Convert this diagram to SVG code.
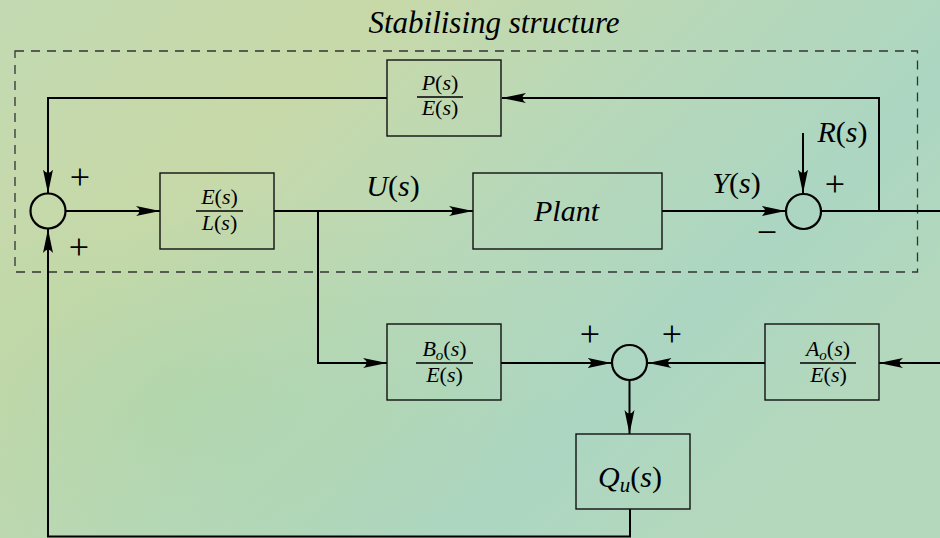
<svg xmlns="http://www.w3.org/2000/svg" width="940" height="538" viewBox="0 0 940 538">
<defs>
<linearGradient id="bg" x1="0" y1="0" x2="1" y2="0.6">
<stop offset="0" stop-color="#c2d9b2"/>
<stop offset="0.3" stop-color="#c8d9a8"/>
<stop offset="0.55" stop-color="#b8d8b8"/>
<stop offset="0.8" stop-color="#acd6c2"/>
<stop offset="1" stop-color="#b4d8bc"/>
</linearGradient>
<radialGradient id="ov" cx="0.2" cy="0.75" r="0.4">
<stop offset="0" stop-color="#a8d4a8" stop-opacity="0.5"/>
<stop offset="1" stop-color="#a8d4a8" stop-opacity="0"/>
</radialGradient>
<marker id="ah" viewBox="0 0 24 12" refX="24" refY="6" markerWidth="24" markerHeight="12" markerUnits="userSpaceOnUse" orient="auto">
<path d="M0,1 L24,6 L0,11 Q7,6 0,1 Z" fill="#000"/>
</marker>
</defs>
<style>
.box{fill:none;stroke:#111;stroke-width:1.4}
.sum{fill:none;stroke:#000;stroke-width:2.2}
.con{fill:none;stroke:#000;stroke-width:2}
.arr{marker-end:url(#ah)}
.dash{fill:none;stroke:#333;stroke-width:1.3;stroke-dasharray:9 7}
.bar{stroke:#000;stroke-width:1.4}
</style>
<rect x="0" y="0" width="940" height="538" fill="url(#bg)"/>
<rect x="0" y="0" width="940" height="538" fill="url(#ov)"/>

<g font-family="Liberation Serif, DejaVu Serif, serif" fill="#000">

<g id="stabilising-structure">
<rect class="dash" x="15" y="51" width="902.5" height="221"/>
<text font-size="31" font-style="italic" x="494" y="33" text-anchor="middle">Stabilising structure</text>
</g>

<g id="connectors">
<path class="con arr" d="M879,211 V98 H502"/>
<path class="con arr" d="M387,98 H48 V193.5"/>
<path class="con arr" d="M65.5,211 H160"/>
<path class="con arr" d="M274,211 H473"/>
<path class="con arr" d="M318,211 V363 H387"/>
<path class="con arr" d="M662,211 H785.5"/>
<path class="con arr" d="M803,133 V193.5"/>
<path class="con" d="M821,211 H940"/>
<path class="con arr" d="M501,363 H611.5"/>
<path class="con arr" d="M765,363 H647.5"/>
<path class="con arr" d="M940,363 H879"/>
<path class="con arr" d="M629.5,380.5 V434"/>
<path class="con arr" d="M630,509 V536.5 H48 V229"/>
</g>

<g id="sum1" font-size="36">
<circle class="sum" cx="48" cy="211" r="17.5"/>
<text x="80" y="189" text-anchor="middle">+</text>
<text x="79" y="259" text-anchor="middle">+</text>
</g>

<g id="sum2" font-size="36">
<circle class="sum" cx="803.5" cy="211.5" r="17.5"/>
<text x="835" y="196" text-anchor="middle">+</text>
<text x="767" y="244" text-anchor="middle">−</text>
</g>

<g id="sum3" font-size="36">
<circle class="sum" cx="629.5" cy="362.5" r="17.5"/>
<text x="590" y="346" text-anchor="middle">+</text>
<text x="672" y="346" text-anchor="middle">+</text>
</g>

<g id="P-over-E" font-size="22">
<rect class="box" x="387" y="60" width="114" height="76"/>
<text x="440" y="90" text-anchor="middle"><tspan font-style="italic">P</tspan>(<tspan font-style="italic">s</tspan>)</text>
<line class="bar" x1="417" y1="97" x2="463" y2="97"/>
<text x="440" y="115" text-anchor="middle"><tspan font-style="italic">E</tspan>(<tspan font-style="italic">s</tspan>)</text>
</g>

<g id="E-over-L" font-size="22">
<rect class="box" x="160" y="173" width="114" height="76"/>
<text x="219.5" y="204" text-anchor="middle"><tspan font-style="italic">E</tspan>(<tspan font-style="italic">s</tspan>)</text>
<line class="bar" x1="196" y1="211" x2="243" y2="211"/>
<text x="219.5" y="230" text-anchor="middle"><tspan font-style="italic">L</tspan>(<tspan font-style="italic">s</tspan>)</text>
</g>

<g id="U-label" font-size="30">
<text x="393" y="196" text-anchor="middle"><tspan font-style="italic">U</tspan>(<tspan font-style="italic">s</tspan>)</text>
</g>

<g id="plant">
<rect class="box" x="473" y="173" width="189" height="76"/>
<text font-size="30" font-style="italic" x="566.5" y="221" text-anchor="middle">Plant</text>
</g>

<g id="Y-label" font-size="30">
<text x="736.5" y="193" text-anchor="middle"><tspan font-style="italic">Y</tspan>(<tspan font-style="italic">s</tspan>)</text>
</g>

<g id="R-label" font-size="30">
<text x="842.5" y="142" text-anchor="middle"><tspan font-style="italic">R</tspan>(<tspan font-style="italic">s</tspan>)</text>
</g>

<g id="Bo-over-E" font-size="22">
<rect class="box" x="387" y="324" width="114" height="76"/>
<text x="444.5" y="356" text-anchor="middle"><tspan font-style="italic">B</tspan><tspan font-style="italic" font-size="15" dy="4">o</tspan><tspan dy="-4">(</tspan><tspan font-style="italic">s</tspan>)</text>
<line class="bar" x1="416" y1="363" x2="473" y2="363"/>
<text x="444.5" y="382" text-anchor="middle"><tspan font-style="italic">E</tspan>(<tspan font-style="italic">s</tspan>)</text>
</g>

<g id="Ao-over-E" font-size="22">
<rect class="box" x="765" y="324" width="114" height="76"/>
<text x="828" y="356" text-anchor="middle"><tspan font-style="italic">A</tspan><tspan font-style="italic" font-size="15" dy="4">o</tspan><tspan dy="-4">(</tspan><tspan font-style="italic">s</tspan>)</text>
<line class="bar" x1="800" y1="363" x2="856" y2="363"/>
<text x="828.5" y="382" text-anchor="middle"><tspan font-style="italic">E</tspan>(<tspan font-style="italic">s</tspan>)</text>
</g>

<g id="Qu" font-size="30">
<rect class="box" x="576" y="434" width="114" height="75"/>
<text x="630" y="487" text-anchor="middle"><tspan font-style="italic">Q</tspan><tspan font-style="italic" font-size="21" dy="5">u</tspan><tspan dy="-5">(</tspan><tspan font-style="italic">s</tspan>)</text>
</g>

</g>
</svg>
